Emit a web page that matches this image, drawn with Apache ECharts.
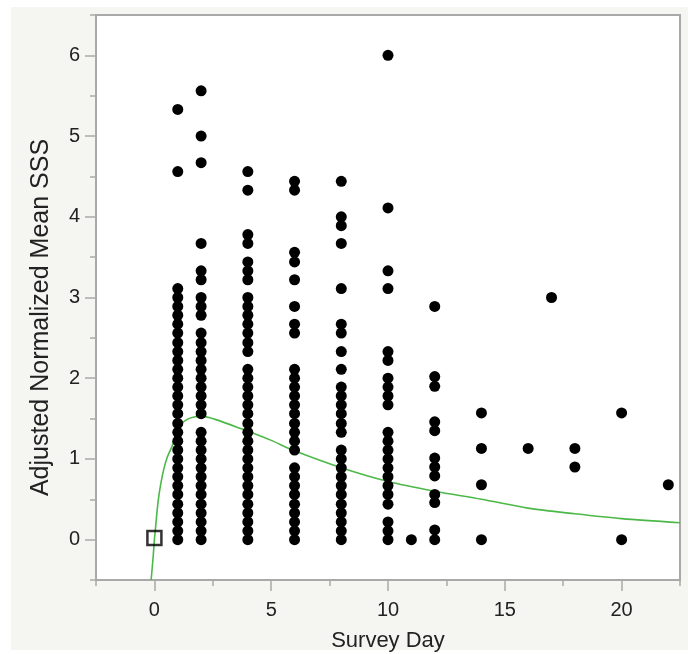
<!DOCTYPE html>
<html>
<head>
<meta charset="utf-8">
<script src="https://cdn.jsdelivr.net/npm/echarts@6/dist/echarts.min.js"></script>
<style>html,body{margin:0;padding:0;background:#fff}#c{width:688px;height:654px}</style>
</head>
<body>
<div id="c"></div>
<script>
// ---- data ----
var day1 = [0,0.11,0.22,0.33,0.44,0.56,0.67,0.78,0.89,1.0,1.11,1.22,1.33,1.44,1.56,1.67,1.78,1.89,2.0,2.11,2.22,2.33,2.44,2.56,2.67,2.78,2.89,3.0,3.11,4.56,5.33];
var day2 = [0,0.11,0.22,0.33,0.44,0.56,0.67,0.78,0.89,1.0,1.11,1.22,1.33,1.56,1.67,1.78,1.89,2.0,2.11,2.22,2.33,2.44,2.56,2.78,2.89,3.0,3.22,3.33,3.67,4.67,5.0,5.56];
var day4 = [0,0.11,0.22,0.33,0.44,0.56,0.67,0.78,0.89,1.0,1.11,1.22,1.33,1.44,1.56,1.67,1.78,1.89,2.0,2.11,2.33,2.44,2.56,2.67,2.78,2.89,3.0,3.22,3.33,3.44,3.67,3.78,4.33,4.56];
var day6 = [0,0.11,0.22,0.33,0.44,0.56,0.67,0.78,0.89,1.11,1.22,1.33,1.44,1.56,1.67,1.78,1.89,2.0,2.11,2.56,2.67,2.89,3.22,3.44,3.56,4.33,4.44];
var day8 = [0,0.11,0.22,0.33,0.44,0.56,0.67,0.78,0.89,1.0,1.11,1.33,1.44,1.56,1.67,1.78,1.89,2.11,2.33,2.56,2.67,3.11,3.67,3.89,4.0,4.44];
var day10 = [0,0.11,0.22,0.44,0.56,0.67,0.78,0.89,1.0,1.11,1.22,1.33,1.67,1.78,1.89,2.0,2.22,2.33,3.11,3.33,4.11,6.0];
var day11 = [0];
var day12 = [0,0.12,0.46,0.56,0.79,0.90,1.01,1.35,1.46,1.90,2.02,2.89];
var day14 = [0,0.68,1.13,1.57];
var day16 = [1.13];
var day17 = [3.0];
var day18 = [0.90,1.13];
var day20 = [0,1.57];
var day22 = [0.68];
var surveyDays = [1,2,4,6,8,10,11,12,14,16,17,18,20,22];
var dayValues = [day1,day2,day4,day6,day8,day10,day11,day12,day14,day16,day17,day18,day20,day22];

// fitted green curve
var curveX = [-0.14,-0.05,0,0.06,0.11,0.18,0.26,0.4,0.55,0.76,0.95,1.11,1.4,1.7,2.0,2.6,3.75,5,6,8,10,12,14,16,18,20,22.5];
var curveY = [-0.5,-0.2,0.0,0.18,0.34,0.52,0.67,0.87,1.02,1.16,1.32,1.42,1.49,1.52,1.53,1.49,1.37,1.23,1.10,0.89,0.72,0.60,0.50,0.39,0.32,0.26,0.21];

// baseline marker (open square)
var markerX = [0];
var markerY = [0.02];

// axis ticks
var xMajorTicks = [0,5,10,15,20];
var xMinorTicks = [-2.5,2.5,7.5,12.5,17.5,22.5];
var yMajorTicks = [0,1,2,3,4,5,6];
var yMinorTicks = [-0.5,0.5,1.5,2.5,3.5,4.5,5.5,6.5];

// ---- build ----
var points = [];
surveyDays.forEach(function(d, i){ dayValues[i].forEach(function(v){ points.push([d, v]); }); });
var curve = curveX.map(function(x, i){ return [x, curveY[i]]; });
var marker = markerX.map(function(x, i){ return [x, markerY[i]]; });

var FONT = "'Liberation Sans', Arial, sans-serif";
var AXC = '#a9a9a9';

var chart = echarts.init(document.getElementById('c'), null, {renderer: 'canvas'});
chart.setOption({
  animation: false,
  backgroundColor: '#ffffff',
  graphic: {
    elements: [{
      type: 'rect', z: -100, silent: true,
      shape: {x: 11, y: 7, width: 677, height: 643},
      style: {fill: '#f5f5f1'}
    }]
  },
  grid: {
    left: 96, top: 15, right: 8, bottom: 74,
    outerBoundsMode: 'none', containLabel: false,
    show: true, backgroundColor: '#ffffff', borderColor: AXC, borderWidth: 2
  },
  xAxis: [{
    type: 'value', min: -2.5, max: 22.5,
    name: 'Survey Day', nameLocation: 'middle', nameGap: 50,
    nameTextStyle: {fontFamily: FONT, fontSize: 22, color: '#222'},
    axisLine: {show: true, onZero: false, lineStyle: {color: AXC, width: 2}},
    axisTick: {show: true, length: 11, customValues: xMajorTicks, lineStyle: {color: AXC, width: 1.5}},
    axisLabel: {customValues: xMajorTicks, fontFamily: FONT, fontSize: 20, color: '#222', margin: 20},
    splitLine: {show: false}
  }, {
    type: 'value', min: -2.5, max: 22.5, position: 'bottom', offset: 0,
    axisLine: {show: false, onZero: false},
    axisTick: {show: true, length: 6, customValues: xMinorTicks, lineStyle: {color: AXC, width: 1.5}},
    axisLabel: {show: false},
    splitLine: {show: false}
  }],
  yAxis: [{
    type: 'value', min: -0.5, max: 6.5,
    name: 'Adjusted Normalized Mean SSS', nameLocation: 'middle', nameGap: 42,
    nameTextStyle: {fontFamily: FONT, fontSize: 25, color: '#222', padding: [0, 40, 0, 0]},
    axisLine: {show: true, onZero: false, lineStyle: {color: AXC, width: 2}},
    axisTick: {show: true, length: 11, customValues: yMajorTicks, lineStyle: {color: AXC, width: 1.5}},
    axisLabel: {customValues: yMajorTicks, fontFamily: FONT, fontSize: 20, color: '#222', margin: 16},
    splitLine: {show: false}
  }, {
    type: 'value', min: -0.5, max: 6.5, position: 'left', offset: 0,
    axisLine: {show: false, onZero: false},
    axisTick: {show: true, length: 6, customValues: yMinorTicks, lineStyle: {color: AXC, width: 1.5}},
    axisLabel: {show: false},
    splitLine: {show: false}
  }],
  series: [{
    type: 'line', data: curve, smooth: 0.3, showSymbol: false, symbol: 'none', clip: true,
    lineStyle: {color: '#4cb848', width: 1.6}, z: 2
  }, {
    type: 'scatter', data: points, symbol: 'circle', symbolSize: 11,
    itemStyle: {color: '#000', opacity: 1}, z: 3
  }, {
    type: 'scatter', data: marker, symbol: 'rect', symbolSize: 14,
    itemStyle: {color: 'rgba(255,255,255,0)', borderColor: '#000', borderWidth: 2.5}, z: 4
  }]
});
</script>
</body>
</html>
